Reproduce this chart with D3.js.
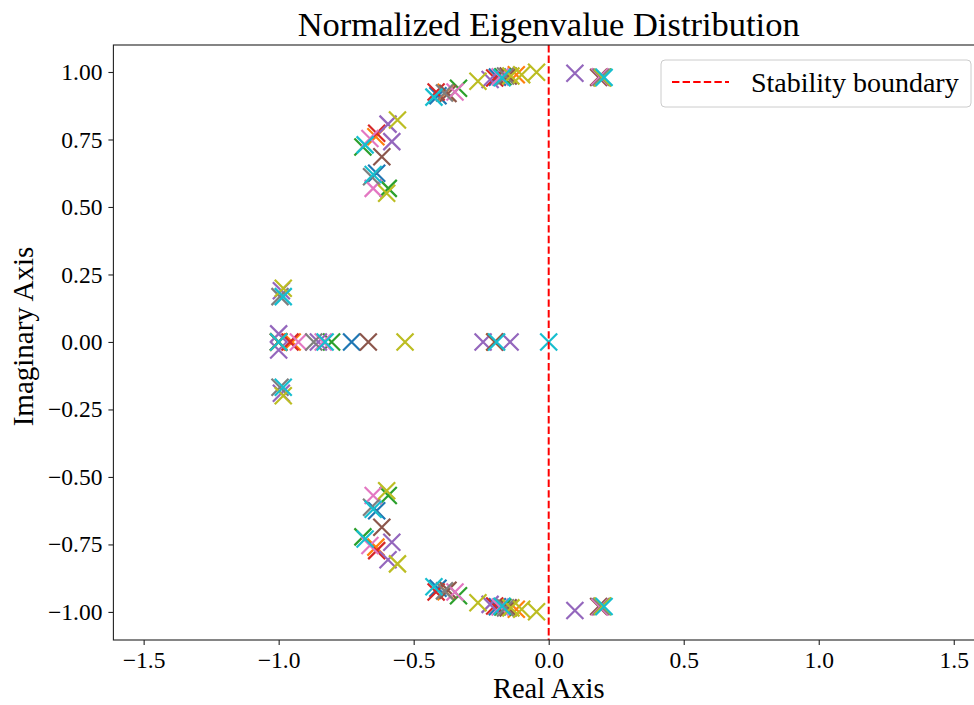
<!DOCTYPE html>
<html>
<head>
<meta charset="utf-8">
<script src="https://cdn.jsdelivr.net/npm/d3@7"></script>
<style>
  body { margin: 0; background: #fff; }
  svg { display: block; font-family: "Liberation Serif", "Times New Roman", serif; }
</style>
</head>
<body>
<div id="wrapper"></div>
<script>
// eigenvalues [re, im], upper half plane + real axis (conjugates are added below)
const eigBlue   = [[-1.0, 0], [-0.73, 0], [-0.637, 0.625], [-0.41, 0.912], [-0.19, 0.981]];
const eigOrange = [[-1.0, 0], [-0.95, 0], [-0.2, 0], [-0.38, 0.925], [-0.12, 0.99], [-0.64, 0.76]];
const eigGreen  = [[-1.0, 0], [-0.804, 0], [-0.688, 0.722], [-0.594, 0.569], [-0.334, 0.94], [-0.17, 0.982], [0.2, 0.98]];
const eigRed    = [[-1.0, 0], [-0.958, 0], [-0.637, 0.773], [-0.417, 0.926], [-0.2, 0.978]];
const eigPurple = [[-1.0, 0.03], [-0.853, 0], [-0.243, 0], [-0.143, 0], [-0.595, 0.807], [-0.581, 0.742], [-0.217, 0.972], [0.097, 0.995], [-0.99, 0.19]];
const eigBrown  = [[-1.0, 0], [-0.668, 0], [-0.199, 0], [-0.618, 0.686], [-0.373, 0.92], [-0.15, 0.985], [0.185, 0.98]];
const eigPink   = [[-0.927, 0], [-0.835, 0], [-0.662, 0.754], [-0.65, 0.569], [-0.347, 0.926], [-0.18, 0.982], [0.19, 0.982]];
const eigGray   = [[-1.0, 0], [-0.87, 0], [-0.656, 0.612], [-0.386, 0.922], [-0.16, 0.985], [-0.995, 0.168], [0.195, 0.98]];
const eigOlive  = [[-1.0, 0], [-0.532, 0], [-0.56, 0.822], [-0.6, 0.551], [-0.262, 0.966], [-0.14, 0.985], [-0.1, 0.99], [-0.045, 0.999], [-0.983, 0.199], [0.2, 0.978]];
const eigCyan   = [[-1.0, 0], [-0.828, 0], [-0.193, 0], [0.0, 0], [-0.68, 0.73], [-0.65, 0.62], [-0.425, 0.907], [-0.173, 0.979], [-0.983, 0.168], [0.205, 0.98]];

const allSeries = [eigBlue, eigOrange, eigGreen, eigRed, eigPurple, eigBrown, eigPink, eigGray, eigOlive, eigCyan];
const colors = d3.schemeCategory10;

const xTicks = [-1.5, -1.0, -0.5, 0.0, 0.5, 1.0, 1.5];
const yTicks = [-1.0, -0.75, -0.5, -0.25, 0.0, 0.25, 0.5, 0.75, 1.0];

const W = 974, H = 705;
const margin = {top: 45, left: 113.4},
  plotW = 870.6, plotH = 595;

const svg = d3.select("#wrapper").append("svg")
  .attr("width", W).attr("height", H);

const x = d3.scaleLinear().domain([-1.612, 1.612]).range([margin.left, margin.left + plotW]);
const y = d3.scaleLinear().domain([-1.104, 1.1]).range([margin.top + plotH, margin.top]);

svg.append("clipPath").attr("id", "clip")
  .append("rect").attr("x", margin.left).attr("y", margin.top).attr("width", plotW).attr("height", plotH);

const plot = svg.append("g").attr("clip-path", "url(#clip)");

const s = 8.5;
const xPath = `M${-s},${-s}L${s},${s}M${-s},${s}L${s},${-s}`;

allSeries.forEach((ser, i) => {
  const pts = [];
  ser.forEach(p => {
    pts.push(p);
    if (p[1] > 0) pts.push([p[0], -p[1]]);
  });
  plot.selectAll(null).data(pts).enter().append("path")
    .attr("d", xPath)
    .attr("transform", d => `translate(${x(d[0])},${y(d[1])})`)
    .attr("stroke", colors[i])
    .attr("stroke-width", 2.2)
    .attr("fill", "none");
});

// stability boundary
plot.append("line")
  .attr("x1", x(0)).attr("x2", x(0))
  .attr("y1", margin.top).attr("y2", margin.top + plotH)
  .attr("stroke", "#ff0000").attr("stroke-width", 2)
  .attr("stroke-dasharray", "7.4,3.2");

// axes
const xAxis = d3.axisBottom(x).tickValues(xTicks).tickFormat(d3.format(".1f")).tickSize(5).tickPadding(6);
const yAxis = d3.axisLeft(y).tickValues(yTicks).tickFormat(d3.format(".2f")).tickSize(5).tickPadding(6);

const gx = svg.append("g").attr("transform", `translate(0,${margin.top + plotH})`).call(xAxis);
const gy = svg.append("g").attr("transform", `translate(${margin.left},0)`).call(yAxis);
[gx, gy].forEach(g => {
  g.select(".domain").remove();
  g.selectAll(".tick line").attr("stroke", "#222").attr("stroke-width", 1.1);
  g.selectAll(".tick text").attr("font-size", 23.5).attr("fill", "#000")
    .attr("font-family", "Liberation Serif, Times New Roman, serif")
    .text(function() { return d3.select(this).text().replace("-", "\u2212"); });
});

// frame
svg.append("rect")
  .attr("x", margin.left).attr("y", margin.top).attr("width", plotW).attr("height", plotH)
  .attr("fill", "none").attr("stroke", "#222").attr("stroke-width", 1.1);

// title and labels
svg.append("text").attr("x", margin.left + plotW / 2).attr("y", 36)
  .attr("text-anchor", "middle").attr("font-size", 34.5).text("Normalized Eigenvalue Distribution");
svg.append("text").attr("x", margin.left + plotW / 2).attr("y", 698)
  .attr("text-anchor", "middle").attr("font-size", 28.5).text("Real Axis");
svg.append("text").attr("transform", `translate(33,${margin.top + plotH / 2 - 6}) rotate(-90)`)
  .attr("text-anchor", "middle").attr("font-size", 29).text("Imaginary Axis");

// legend
const lg = svg.append("g");
lg.append("rect").attr("x", 661).attr("y", 60).attr("width", 310).attr("height", 47)
  .attr("rx", 4).attr("fill", "#fff").attr("fill-opacity", 0.8)
  .attr("stroke", "#ccc").attr("stroke-width", 1);
lg.append("line").attr("x1", 672).attr("x2", 729).attr("y1", 82).attr("y2", 82)
  .attr("stroke", "#ff0000").attr("stroke-width", 2).attr("stroke-dasharray", "7.4,3.2");
lg.append("text").attr("x", 751).attr("y", 92).attr("font-size", 28).text("Stability boundary");
</script>
</body>
</html>
